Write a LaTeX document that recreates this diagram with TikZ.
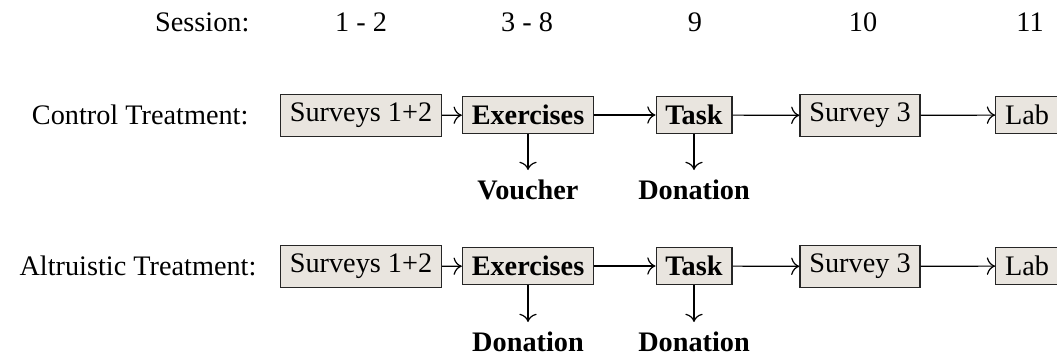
\documentclass[tikz,border=0pt]{standalone}
\usepackage{fontspec}
\setmainfont{Liberation Serif}
\usetikzlibrary{arrows.meta}
\definecolor{boxfill}{RGB}{233,229,223}

\begin{document}
\begin{tikzpicture}[x=0.375pt, y=-0.375pt,
    font=\fontsize{10.6pt}{12.7pt}\selectfont,
    >={To[scale=1.2]}, line width=0.45pt,
    label/.style={anchor=east, inner sep=0pt},
    stage/.style={draw=black!85, fill=boxfill, inner xsep=3.5pt, minimum height=13.5pt},
    survey/.style={stage, minimum height=16pt},
    result/.style={font=\fontsize{10.6pt}{12.7pt}\selectfont\bfseries, anchor=north}]
    \useasboundingbox (0,0) rectangle (1057,356);

    % sessions
    \node[label] (sess) at (250,22) {Session:};
    \node (ses1) at (361,22) {1 - 2};
    \node (ses2) at (527,22) {3 - 8};
    \node (ses3) at (695,22) {9};
    \node (ses4) at (863,22) {10};
    \node (ses5) at (1030,22) {11};

    % control treatment
    \node[label] (ctrl) at (249,115) {Control Treatment:};
    \node[survey] (csurv) at (361,115.5) {Surveys 1+2};
    \node[stage] (cexer) at (528,115) {\textbf{Exercises}};
    \node[stage] (ctask) at (694,115) {\textbf{Task}};
    \node[survey] (csurv3) at (860,115.5) {Survey 3};
    \node[stage] (clab) at (1027,115) {Lab};
    \node[result] (cvouch) at (528,170) {Voucher};
    \node[result] (cdon) at (694,170) {Donation};

    % altruistic treatment
    \node[label] (altr) at (257,266) {Altruistic Treatment:};
    \node[survey] (asurv) at (361,266.5) {Surveys 1+2};
    \node[stage] (aexer) at (528,266) {\textbf{Exercises}};
    \node[stage] (atask) at (694,266) {\textbf{Task}};
    \node[survey] (asurv3) at (860,266.5) {Survey 3};
    \node[stage] (alab) at (1027,266) {Lab};
    \node[result] (adon1) at (528,322) {Donation};
    \node[result] (adon2) at (694,322) {Donation};

    \draw[->] (csurv) -- (cexer);
    \draw[->] (cexer) -- (ctask);
    \draw[->] (ctask) -- (csurv3);
    \draw[->] (csurv3) -- (clab);
    \draw[->] (cexer) -- (cvouch);
    \draw[->] (ctask) -- (cdon);

    \draw[->] (asurv) -- (aexer);
    \draw[->] (aexer) -- (atask);
    \draw[->] (atask) -- (asurv3);
    \draw[->] (asurv3) -- (alab);
    \draw[->] (aexer) -- (adon1);
    \draw[->] (atask) -- (adon2);
\end{tikzpicture}
\end{document}
